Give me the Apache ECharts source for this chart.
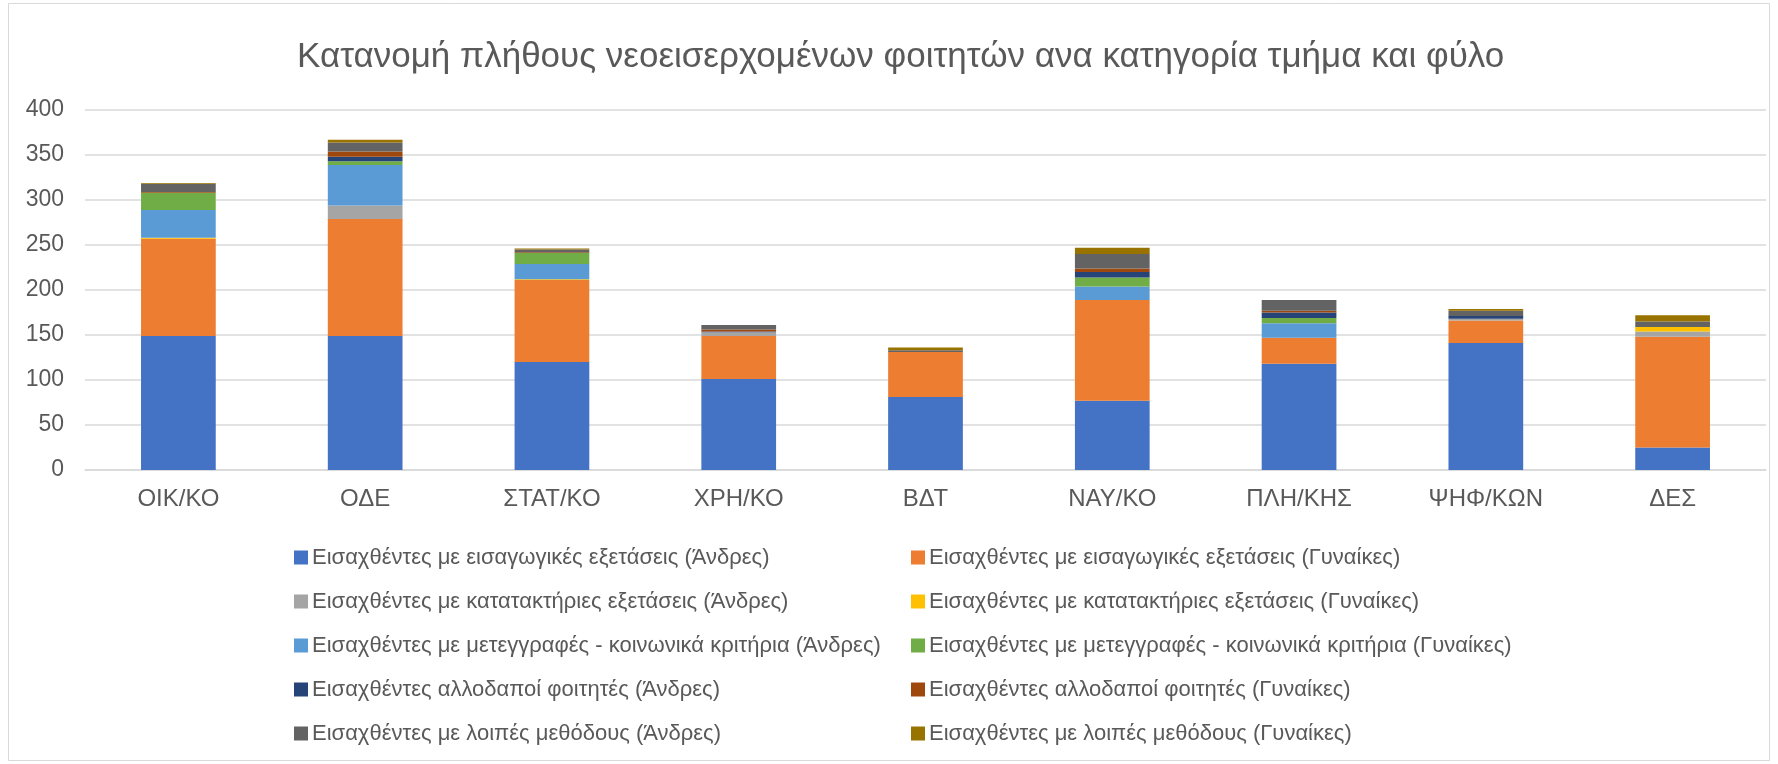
<!DOCTYPE html>
<html>
<head>
<meta charset="utf-8">
<script src="https://cdn.jsdelivr.net/npm/echarts@6/dist/echarts.min.js"></script>
<style>
html,body{margin:0;padding:0;background:#fff;}
#chart{width:1778px;height:764px;}
</style>
</head>
<body>
<div id="chart"></div>
<script>
const categories = ['ΟΙΚ/ΚΟ','ΟΔΕ','ΣΤΑΤ/ΚΟ','ΧΡΗ/ΚΟ','ΒΔΤ','ΝΑΥ/ΚΟ','ΠΛΗ/ΚΗΣ','ΨΗΦ/ΚΩΝ','ΔΕΣ'];
const yTicks = [0,50,100,150,200,250,300,350,400];

const examsMen        = [149,149,120,101,81, 77,118,141, 25];
const examsWomen      = [108,130, 91, 48,50,112, 29, 25,123];
const transferExMen   = [  0, 15,  0,  4, 0,  0,  0,  2,  6];
const transferExWomen = [  1,  0,  1,  0, 0,  0,  0,  0,  5];
const socialMen       = [ 31, 45, 17,  0, 0, 15, 16,  0,  0];
const socialWomen     = [ 19,  4, 12,  0, 0, 10,  6,  0,  0];
const foreignMen      = [  0,  5,  0,  1, 0,  6,  6,  3,  0];
const foreignWomen    = [  1,  6,  1,  2, 0,  4,  2,  0,  0];
const otherMen        = [  9, 10,  3,  5, 2, 16, 12,  6,  6];
const otherWomen      = [  1,  3,  1,  0, 3,  7,  0,  2,  7];

const seriesNames = [
 'Εισαχθέντες με εισαγωγικές εξετάσεις (Άνδρες)',
 'Εισαχθέντες με εισαγωγικές εξετάσεις (Γυναίκες)',
 'Εισαχθέντες με κατατακτήριες εξετάσεις (Άνδρες)',
 'Εισαχθέντες με κατατακτήριες εξετάσεις (Γυναίκες)',
 'Εισαχθέντες με μετεγγραφές - κοινωνικά κριτήρια (Άνδρες)',
 'Εισαχθέντες με μετεγγραφές - κοινωνικά κριτήρια (Γυναίκες)',
 'Εισαχθέντες αλλοδαποί φοιτητές (Άνδρες)',
 'Εισαχθέντες αλλοδαποί φοιτητές (Γυναίκες)',
 'Εισαχθέντες με λοιπές μεθόδους (Άνδρες)',
 'Εισαχθέντες με λοιπές μεθόδους (Γυναίκες)'
];
const seriesData = [examsMen,examsWomen,transferExMen,transferExWomen,socialMen,socialWomen,foreignMen,foreignWomen,otherMen,otherWomen];
const colors = ['#4472C4','#ED7D31','#A5A5A5','#FFC000','#5B9BD5','#70AD47','#264478','#9E480E','#636363','#997300'];

const FONT = 'Liberation Sans';
const chart = echarts.init(document.getElementById('chart'), null, {renderer:'canvas'});

const series = seriesNames.map((n,i)=>({
  name:n, type:'bar', stack:'total', data:seriesData[i], barWidth:'40%',
  itemStyle:{color:colors[i]}, emphasis:{disabled:true}
}));

const legendCommon = {
  orient:'vertical', top:540, itemWidth:14, itemHeight:14, itemGap:19, icon:'rect',
  textStyle:{fontFamily:FONT, fontSize:22, color:'#595959', lineHeight:25, padding:[0,0,0,-1]},
  selectedMode:false
};

chart.setOption({
  animation:false,
  color:colors,
  title:{text:'Κατανομή πλήθους νεοεισερχομένων φοιτητών ανα κατηγορία τμήμα και φύλο',
    left:292, top:35,
    textStyle:{fontFamily:FONT, fontSize:35, fontWeight:'normal', color:'#595959'}},
  grid:{left:85, top:110, width:1681, height:360, containLabel:false},
  xAxis:{type:'category', data:categories,
    axisLine:{lineStyle:{color:'#d9d9d9', width:1.5}}, axisTick:{show:false},
    axisLabel:{fontFamily:FONT, fontSize:24, color:'#595959', margin:17}},
  yAxis:{type:'value', min:0, max:400, interval:50,
    axisLine:{show:false}, axisTick:{show:false},
    splitLine:{lineStyle:{color:'#d9d9d9', width:1.5}},
    axisLabel:{fontFamily:FONT, fontSize:23, color:'#595959', margin:21,
      formatter:v=>yTicks.includes(v)?String(v):''}},
  legend:[
    Object.assign({}, legendCommon, {left:289, data:seriesNames.filter((_,i)=>i%2===0)}),
    Object.assign({}, legendCommon, {left:906, data:seriesNames.filter((_,i)=>i%2===1)})
  ],
  graphic:[{type:'rect', shape:{x:8.5,y:3.5,width:1761,height:757}, style:{fill:'none', stroke:'#d9d9d9', lineWidth:1}, silent:true}],
  series:series
});
</script>
</body>
</html>
